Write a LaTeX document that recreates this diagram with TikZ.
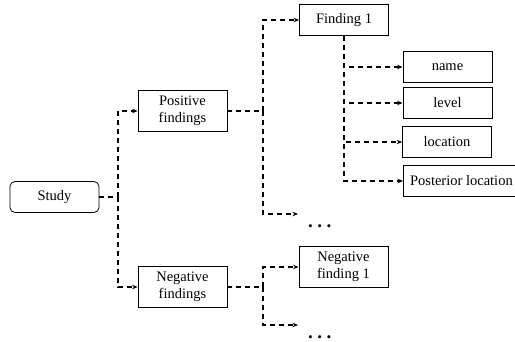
\documentclass[tikz,border=0pt]{standalone}
\usepackage{fontspec}
\setmainfont{Liberation Serif}
\usetikzlibrary{arrows.meta}

\begin{document}
\begin{tikzpicture} [x=1pt,y=-1pt,>={Stealth[length=5.5pt,width=4.5pt]},
			box/.style={draw,line width=0.8pt,minimum width=89pt,minimum height=31pt,inner sep=2pt,align=center,font=\fontsize{14.5}{17.5}\selectfont},
			tall box/.style={box,minimum height=41pt},
			link/.style={line width=1.4pt,dash pattern=on 5pt off 4pt},
			more/.style={inner xsep=10pt,inner ysep=0pt,text height=27pt,text depth=0pt,font=\fontsize{19}{19}\selectfont\bfseries}]

		\useasboundingbox (0,0) rectangle (515,341);

		\node [box, rounded corners=5pt] (study) at (54.5,197) {Study};
		\node [tall box] (pos) at (182.5,111) {Positive\\findings};
		\node [tall box] (neg) at (182.5,287) {Negative\\findings};
		\node [box] (f1) at (344,20) {Finding 1};
		\node [box] (name) at (447.5,67) {name};
		\node [box] (level) at (447.5,103) {level};
		\node [box] (loc) at (447,142) {location};
		\node [box, minimum width=116pt, anchor=west] (post) at (403,181) {Posterior location};
		\node [tall box] (nf1) at (343.5,267) {Negative\\finding 1};
		\node [more, anchor=west] (more1) at (298,214) {.\hspace{4.5pt}.\hspace{4.5pt}.};
		\node [more, anchor=west] (more2) at (298,325) {.\hspace{4.5pt}.\hspace{4.5pt}.};

		\draw [link] (study.east) -- (118,197) coordinate (j0);
		\draw [link,->] (j0) |- (pos.west);
		\draw [link,->] (j0) |- (neg.west);
		\draw [link] (pos.east) -- (263,111) coordinate (j1);
		\draw [link,->] (j1) |- (f1.west);
		\draw [link,->] (j1) |- (more1.west);
		\foreach \n in {name,level,loc,post}
			\draw [link,->] (f1.south) |- (\n.west);
		\draw [link] (neg.east) -- (263,287) coordinate (j2);
		\draw [link,->] (j2) |- (nf1.west);
		\draw [link,->] (j2) |- (more2.west);

		\end{tikzpicture}
\end{document}
